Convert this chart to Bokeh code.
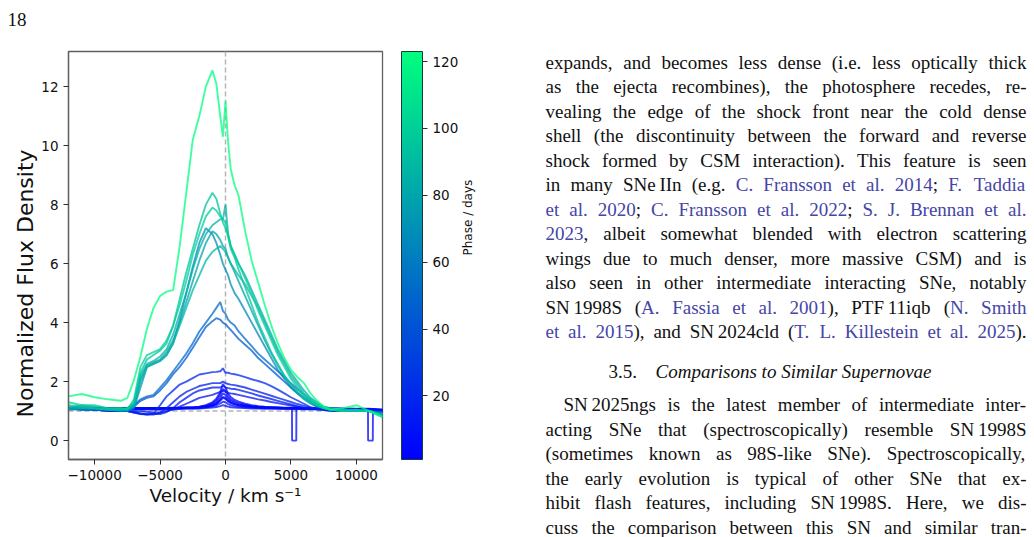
import math
from bokeh.plotting import figure
from bokeh.models import (Range1d, LinearColorMapper, ColorBar, FixedTicker, Span,
                          ColumnDataSource, LinearAxis)
from bokeh.layouts import row
from bokeh.core.properties import value
from bokeh.embed import file_html
from bokeh.resources import INLINE

# ---------------- data ----------------
velocity = [-12000, -11000, -10000, -9000, -8000,
            -7500, -7000, -6500, -6000, -5500,
            -5000, -4500, -4000, -3500, -3000,
            -2500, -2000, -1500, -1000, -700,
            -400, -200, 0, 200, 400,
            700, 1000, 1500, 2000, 2500,
            3000, 3500, 4000, 4500, 5000,
            5500, 6000, 6500, 7000, 7500,
            8000, 9000, 10000, 11000, 12000]

phase_e1 = 1
flux_e1 = [1.12, 1.13, 1.10, 1.11, 1.10,
           1.10, 1.10, 1.11, 1.10, 1.11,
           1.10, 1.11, 1.12, 1.12, 1.13,
           1.13, 1.15, 1.20, 1.30, 1.42,
           1.65, 1.92, 1.80, 1.60, 1.48,
           1.38, 1.32, 1.25, 1.20, 1.17,
           1.15, 1.14, 1.13, 1.12, 1.12,
           1.11, 1.10, 1.10, 1.10, 1.09,
           1.10, 1.08, 1.08, 1.07, 1.05]

phase_e2 = 2
flux_e2 = [1.10, 1.12, 1.11, 1.09, 1.10,
           1.11, 1.10, 1.10, 1.11, 1.10,
           1.10, 1.10, 1.11, 1.11, 1.12,
           1.12, 1.14, 1.18, 1.26, 1.36,
           1.55, 1.75, 1.68, 1.50, 1.40,
           1.32, 1.27, 1.21, 1.17, 1.15,
           1.13, 1.12, 1.12, 1.11, 1.11,
           1.10, 1.10, 1.10, 1.09, 1.09,
           1.09, 1.08, 1.07, 1.08, 1.04]

phase_e3 = 3
flux_e3 = [1.11, 1.10, 1.12, 1.10, 1.09,
           1.10, 1.09, 1.10, 1.10, 1.09,
           1.09, 1.10, 1.10, 1.11, 1.11,
           1.12, 1.13, 1.16, 1.22, 1.30,
           1.45, 1.60, 1.55, 1.42, 1.34,
           1.27, 1.23, 1.19, 1.16, 1.14,
           1.13, 1.12, 1.11, 1.11, 1.10,
           1.10, 1.09, 1.09, 1.09, 1.08,
           1.08, 1.07, 1.07, 1.06, 1.05]

# spectrum with the two telluric gaps
phase_tell = 4
velocity_tell = [-12000, -11000, -10000, -9000, -8000, -7000, -6000, -5000, -4000, -3000,
                 -2000, -1500, -1000, -700, -400, -200, 0, 200, 400, 700,
                 1000, 1500, 2000, 3000, 4000, 5000, 5080, 5090, 5410, 5420,
                 6000, 7000, 8000, 9000, 10000, 10890, 10900, 11260, 11270, 12000]
flux_tell = [1.10, 1.11, 1.10, 1.10, 1.09, 1.10, 1.09, 1.09, 1.10, 1.11,
             1.12, 1.14, 1.19, 1.25, 1.37, 1.48, 1.45, 1.35, 1.29, 1.24,
             1.20, 1.16, 1.14, 1.12, 1.11, 1.10, 1.10, 0.00, 0.00, 1.10,
             1.09, 1.09, 1.08, 1.08, 1.07, 1.07, 0.00, 0.00, 1.06, 1.04]

phase_e5 = 5
flux_e5 = [1.09, 1.10, 1.09, 1.10, 1.08,
           1.09, 1.08, 1.09, 1.08, 1.09,
           1.08, 1.09, 1.09, 1.10, 1.10,
           1.11, 1.12, 1.14, 1.19, 1.25,
           1.36, 1.45, 1.42, 1.33, 1.27,
           1.23, 1.20, 1.16, 1.14, 1.12,
           1.11, 1.11, 1.10, 1.10, 1.09,
           1.09, 1.08, 1.08, 1.08, 1.07,
           1.07, 1.06, 1.06, 1.05, 1.03]

phase_e6 = 6
flux_e6 = [1.08, 1.09, 1.08, 1.07, 1.08,
           1.07, 1.08, 1.07, 1.07, 1.08,
           1.08, 1.08, 1.09, 1.09, 1.10,
           1.10, 1.11, 1.13, 1.16, 1.20,
           1.26, 1.32, 1.30, 1.24, 1.20,
           1.17, 1.15, 1.13, 1.12, 1.11,
           1.10, 1.10, 1.09, 1.09, 1.09,
           1.08, 1.08, 1.07, 1.07, 1.07,
           1.06, 1.06, 1.05, 1.05, 1.02]

phase_e8 = 8
flux_e8 = [1.07, 1.08, 1.06, 1.07, 1.06,
           1.06, 1.07, 1.06, 1.06, 1.05,
           1.05, 1.06, 1.06, 1.07, 1.08,
           1.08, 1.09, 1.10, 1.12, 1.14,
           1.17, 1.20, 1.18, 1.15, 1.13,
           1.12, 1.11, 1.10, 1.09, 1.09,
           1.08, 1.08, 1.08, 1.07, 1.07,
           1.07, 1.06, 1.06, 1.06, 1.05,
           1.05, 1.05, 1.04, 1.04, 1.00]

phase_b10 = 10
flux_b10 = [1.10, 1.10, 1.05, 1.05, 1.05,
            1.02, 1.00, 1.00, 0.98, 0.95,
            0.95, 1.00, 1.05, 1.15, 1.25,
            1.35, 1.45, 1.50, 1.55, 1.60,
            1.65, 1.70, 1.65, 1.62, 1.60,
            1.58, 1.55, 1.50, 1.45, 1.40,
            1.36, 1.31, 1.27, 1.23, 1.19,
            1.15, 1.11, 1.08, 1.06, 1.05,
            1.00, 1.00, 1.00, 1.00, 0.98]

phase_b12 = 12
flux_b12 = [1.10, 1.05, 1.05, 1.00, 1.00,
            1.00, 0.95, 0.92, 0.90, 0.90,
            0.90, 0.97, 1.10, 1.30, 1.45,
            1.60, 1.70, 1.75, 1.80, 1.80,
            1.80, 1.85, 1.80, 1.78, 1.76,
            1.75, 1.72, 1.66, 1.60, 1.53,
            1.47, 1.41, 1.35, 1.29, 1.23,
            1.17, 1.12, 1.08, 1.06, 1.05,
            1.03, 1.02, 1.00, 1.00, 1.00]

phase_b15 = 15
flux_b15 = [1.10, 1.05, 1.05, 1.00, 1.00,
            1.00, 0.95, 0.90, 0.88, 0.88,
            0.95, 1.10, 1.30, 1.50, 1.65,
            1.75, 1.85, 1.90, 1.95, 1.95,
            1.95, 2.00, 1.95, 1.92, 1.90,
            1.88, 1.85, 1.80, 1.73, 1.66,
            1.59, 1.52, 1.45, 1.38, 1.31,
            1.24, 1.18, 1.12, 1.08, 1.06,
            1.04, 1.02, 1.00, 1.00, 1.00]

phase_b19 = 19
flux_b19 = [1.10, 1.10, 1.05, 1.05, 1.00,
            1.00, 0.98, 0.92, 0.88, 0.92,
            1.20, 1.50, 1.70, 1.90, 2.00,
            2.12, 2.24, 2.28, 2.32, 2.33,
            2.35, 2.45, 2.30, 2.30, 2.27,
            2.25, 2.22, 2.15, 2.08, 2.02,
            1.95, 1.85, 1.73, 1.60, 1.47,
            1.36, 1.25, 1.13, 1.08, 1.05,
            1.04, 1.02, 1.00, 1.00, 1.00]

phase_b45 = 45
flux_b45 = [1.10, 1.05, 1.05, 1.05, 1.00,
            1.05, 1.15, 1.35, 1.45, 1.50,
            1.70, 1.95, 2.25, 2.50, 2.80,
            3.15, 3.50, 3.85, 4.05, 4.15,
            4.10, 4.00, 3.95, 3.85, 3.75,
            3.60, 3.45, 3.25, 3.05, 2.80,
            2.60, 2.40, 2.20, 2.00, 1.80,
            1.60, 1.45, 1.30, 1.15, 1.10,
            1.05, 1.00, 1.00, 1.00, 0.95]

phase_b52 = 52
flux_b52 = [1.10, 1.10, 1.05, 1.05, 1.05,
            1.10, 1.20, 1.40, 1.50, 1.55,
            1.80, 2.05, 2.35, 2.65, 2.95,
            3.30, 3.70, 4.00, 4.30, 4.50,
            4.70, 4.40, 4.30, 4.10, 4.00,
            3.90, 3.70, 3.45, 3.20, 2.95,
            2.75, 2.55, 2.35, 2.15, 1.95,
            1.75, 1.55, 1.35, 1.20, 1.10,
            1.05, 1.05, 1.00, 1.00, 0.95]

phase_t68 = 68
flux_t68 = [1.05, 1.05, 1.05, 1.05, 1.00,
            1.00, 1.10, 1.80, 2.50, 2.60,
            2.70, 2.90, 3.30, 4.10, 5.00,
            5.90, 6.70, 7.20, 7.00, 6.70,
            6.30, 6.00, 5.80, 5.60, 5.30,
            5.00, 4.80, 4.40, 4.00, 3.60,
            3.20, 2.80, 2.40, 2.10, 1.80,
            1.60, 1.40, 1.25, 1.15, 1.10,
            1.05, 1.00, 1.00, 1.00, 0.90]

phase_t80 = 80
flux_t80 = [1.05, 1.10, 1.10, 1.05, 1.05,
            1.05, 1.15, 2.00, 2.55, 2.65,
            2.75, 3.00, 3.40, 4.00, 4.70,
            5.40, 6.10, 6.70, 7.10, 7.00,
            6.80, 6.60, 6.50, 6.20, 6.00,
            5.70, 5.40, 4.90, 4.40, 3.90,
            3.40, 2.95, 2.55, 2.20, 1.90,
            1.65, 1.45, 1.30, 1.20, 1.10,
            1.05, 1.00, 1.00, 1.00, 0.90]

phase_t85 = 85
flux_t85 = [1.10, 1.20, 1.15, 1.10, 1.10,
            1.10, 1.25, 2.20, 2.60, 2.70,
            2.85, 3.10, 3.60, 4.30, 5.00,
            5.80, 6.50, 7.00, 7.30, 7.40,
            7.50, 7.50, 8.00, 7.00, 6.60,
            6.30, 6.00, 5.60, 5.10, 4.60,
            4.10, 3.60, 3.10, 2.70, 2.30,
            2.00, 1.70, 1.45, 1.30, 1.15,
            1.10, 1.05, 1.05, 1.00, 0.90]

phase_t90 = 90
flux_t90 = [1.15, 1.10, 1.10, 1.05, 1.05,
            1.05, 1.20, 2.10, 2.50, 2.60,
            2.70, 2.90, 3.30, 3.90, 4.50,
            5.10, 5.60, 6.10, 6.40, 6.50,
            6.60, 6.50, 6.40, 6.20, 6.00,
            5.80, 5.60, 5.30, 4.90, 4.50,
            4.00, 3.50, 3.00, 2.60, 2.20,
            1.90, 1.60, 1.40, 1.25, 1.15,
            1.10, 1.05, 1.00, 1.00, 0.85]

phase_t95 = 95
flux_t95 = [1.20, 1.15, 1.10, 1.05, 1.05,
            1.10, 1.30, 2.30, 2.75, 2.90,
            3.05, 3.30, 3.90, 4.80, 5.70,
            6.50, 7.30, 8.00, 8.40, 8.20,
            7.70, 7.40, 7.20, 6.90, 6.50,
            6.20, 5.80, 5.20, 4.60, 4.00,
            3.50, 3.00, 2.60, 2.20, 1.90,
            1.65, 1.45, 1.30, 1.20, 1.10,
            1.05, 1.00, 1.00, 1.00, 0.85]

phase_t100 = 100
flux_t100 = [1.30, 1.20, 1.20, 1.10, 1.10,
             1.05, 1.40, 2.50, 2.90, 3.00,
             3.10, 3.40, 3.90, 4.60, 5.40,
             6.30, 7.00, 7.60, 7.90, 7.80,
             7.60, 7.50, 7.40, 7.00, 6.60,
             6.30, 6.00, 5.50, 5.00, 4.40,
             3.90, 3.40, 2.90, 2.50, 2.10,
             1.80, 1.55, 1.35, 1.20, 1.10,
             1.05, 1.00, 1.05, 1.00, 0.80]

phase_g123 = 123
flux_g123 = [1.50, 1.58, 1.47, 1.40, 1.35,
             1.45, 2.05, 2.85, 3.80, 4.50,
             4.90, 5.05, 5.10, 6.60, 8.40,
             10.20, 11.00, 12.00, 12.55, 12.10,
             11.00, 10.30, 11.50, 10.10, 9.20,
             8.65, 8.30, 7.10, 6.10, 5.35,
             4.60, 3.90, 3.30, 2.80, 2.40,
             2.15, 1.95, 1.60, 1.35, 1.15,
             1.05, 1.10, 1.20, 1.00, 0.80]

phase_low, phase_high = 1, 123
x_ticks = [-10000, -5000, 0, 5000, 10000]
y_ticks = [0, 2, 4, 6, 8, 10, 12]
cbar_ticks = [20, 40, 60, 80, 100, 120]

page_number = "18"
para1 = [
    "expands, and becomes less dense (i.e. less optically thick",
    "as the ejecta recombines), the photosphere recedes, re-",
    "vealing the edge of the shock front near the cold dense",
    "shell (the discontinuity between the forward and reverse",
    "shock formed by CSM interaction). This feature is seen",
    "in many SNe~IIn (e.g. [C. Fransson et al. 2014]; [F. Taddia]",
    "[et al. 2020]; [C. Fransson et al. 2022]; [S. J. Brennan et al.]",
    "[2023], albeit somewhat blended with electron scattering",
    "wings due to much denser, more massive CSM) and is",
    "also seen in other intermediate interacting SNe, notably",
    "SN~1998S ([A. Fassia et al. 2001]), PTF~11iqb ([N. Smith]",
    "[et al. 2015]), and SN~2024cld ([T. L. Killestein et al. 2025]).",
]
heading_num = "3.5."
heading_text = "Comparisons to Similar Supernovae"
para2 = [
    "SN~2025ngs is the latest member of intermediate inter-",
    "acting SNe that (spectroscopically) resemble SN~1998S",
    "(sometimes known as 98S-like SNe). Spectroscopically,",
    "the early evolution is typical of other SNe that ex-",
    "hibit flash features, including SN~1998S. Here, we dis-",
    "cuss the comparison between this SN and similar tran-",
]

# ---------------- chart ----------------
spectra = [
    (velocity, flux_e1, phase_e1), (velocity, flux_e2, phase_e2),
    (velocity, flux_e3, phase_e3), (velocity_tell, flux_tell, phase_tell),
    (velocity, flux_e5, phase_e5), (velocity, flux_e6, phase_e6),
    (velocity, flux_e8, phase_e8), (velocity, flux_b10, phase_b10),
    (velocity, flux_b12, phase_b12), (velocity, flux_b15, phase_b15),
    (velocity, flux_b19, phase_b19), (velocity, flux_b45, phase_b45),
    (velocity, flux_b52, phase_b52), (velocity, flux_t68, phase_t68),
    (velocity, flux_t80, phase_t80), (velocity, flux_t85, phase_t85),
    (velocity, flux_t90, phase_t90), (velocity, flux_t95, phase_t95),
    (velocity, flux_t100, phase_t100), (velocity, flux_g123, phase_g123),
]
spectra.sort(key=lambda s: s[2])

winter = ["#%02x%02x%02x" % (0, i, int(round(255 - 0.5 * i))) for i in range(256)]
mapper = LinearColorMapper(palette=winter, low=phase_low, high=phase_high)

FRAME_L, FRAME_R, FRAME_T, FRAME_B = 68, 382, 51, 459
WA, H = 520, 537

p = figure(width=WA, height=H, output_backend="svg", toolbar_location=None,
           x_range=Range1d(-12000, 12000), y_range=Range1d(-0.64, 13.19),
           min_border_left=FRAME_L, min_border_right=WA - FRAME_R,
           min_border_top=FRAME_T, min_border_bottom=H - FRAME_B)
p.frame_align = False

# page number, shown in the top margin
p.title.text = page_number + "\n"
p.title.align = "left"
p.title.offset = -61
p.title.standoff = 2
p.title.text_font = "Liberation Serif"
p.title.text_font_size = "19px"
p.title.text_font_style = "normal"
p.title.text_color = "#111111"

p.xgrid.visible = False
p.ygrid.visible = False
p.background_fill_color = "white"
p.border_fill_color = "white"
p.outline_line_color = "#606060"
p.outline_line_width = 1.3

for ax in (p.xaxis[0], p.yaxis[0]):
    ax.axis_line_color = "#606060"
    ax.axis_line_width = 1.3
    ax.major_tick_out = 5
    ax.major_tick_in = 0
    ax.major_tick_line_color = "#303030"
    ax.minor_tick_line_color = None
    ax.major_label_text_font = "DejaVu Sans"
    ax.major_label_text_font_size = "13.5px"
    ax.major_label_text_color = "#111111"
    ax.axis_label_text_font = "DejaVu Sans"
    ax.axis_label_text_font_style = "normal"
    ax.axis_label_text_color = "#111111"

p.xaxis.ticker = FixedTicker(ticks=x_ticks)
p.xaxis.major_label_overrides = {t: ("\u2212" + str(-t) if t < 0 else str(t)) for t in x_ticks}
p.xaxis.axis_label = "Velocity / km s\u207b\u00b9"
p.xaxis.axis_label_text_font_size = "18.5px"
p.xaxis.major_label_standoff = 5
p.xaxis.axis_label_standoff = 2

p.yaxis.ticker = FixedTicker(ticks=y_ticks)
p.yaxis.axis_label = "Normalized Flux Density" + "\u00a0" * 8
p.yaxis.axis_label_text_font_size = "22px"
p.yaxis.major_label_standoff = 5
p.yaxis.axis_label_standoff = 0

p.add_layout(Span(location=0, dimension="height", line_color="#b4b4b4",
                  line_dash="5 3", line_width=1.5, level="underlay"))
p.add_layout(Span(location=1, dimension="width", line_color="#b4b4b4",
                  line_dash="5 3", line_width=1.5, level="underlay"))

src = ColumnDataSource(dict(xs=[s[0] for s in spectra], ys=[s[1] for s in spectra],
                            phase=[s[2] for s in spectra]))
p.multi_line(xs="xs", ys="ys", source=src,
             line_color={"field": "phase", "transform": mapper},
             line_alpha=0.75, line_width=1.9)

cbar = ColorBar(color_mapper=mapper, ticker=FixedTicker(ticks=cbar_ticks),
                width=21, padding=0, margin=0, location=(19, 0),
                major_tick_out=5, major_tick_in=0, major_tick_line_color="#303030",
                minor_tick_line_color=None, label_standoff=5,
                major_label_text_font="DejaVu Sans", major_label_text_font_size="13.5px",
                major_label_text_color="#111111",
                bar_line_color="#1d3a3a", bar_line_width=1,
                border_line_color=None, background_fill_color=None)
p.add_layout(cbar, "right")

phase_axis = LinearAxis(ticker=FixedTicker(ticks=[]), axis_label="Phase / days",
                        axis_line_color=None, major_tick_line_color=None,
                        minor_tick_line_color=None, major_tick_out=0, major_tick_in=0,
                        axis_label_text_font="DejaVu Sans", axis_label_text_font_size="12px",
                        axis_label_text_font_style="normal", axis_label_text_color="#111111",
                        axis_label_standoff=6)
if "axis_label_orientation" in phase_axis.properties():
    phase_axis.axis_label_orientation = math.pi / 2
p.add_layout(phase_axis, "right")

# ---------------- text column ----------------
WB = 1034 - WA
FS = 19
W = {}
for ch, w in zip("abcdefghijklmnopqrstuvwxyz",
                 [444, 500, 444, 500, 444, 333, 500, 500, 278, 278, 500, 278, 778,
                  500, 500, 500, 500, 333, 389, 278, 500, 500, 722, 500, 500, 444]):
    W[ch] = w
for ch, w in zip("ABCDEFGHIJKLMNOPQRSTUVWXYZ",
                 [722, 667, 667, 722, 611, 556, 722, 722, 333, 389, 722, 611, 889,
                  722, 722, 556, 722, 667, 556, 611, 722, 722, 944, 722, 722, 611]):
    W[ch] = w
for ch in "0123456789":
    W[ch] = 500
W.update({" ": 250, ".": 250, ",": 250, ";": 278, ":": 278, "(": 333, ")": 333,
          "-": 333, "~": 200})


def tw(s):
    return sum(W.get(c, 500) for c in s) / 1000.0 * FS


def parse(line):
    tokens, cur, buf, link = [], [], "", False
    for ch in line:
        if ch in "[]":
            if buf:
                cur.append((buf, link))
                buf = ""
            link = ch == "["
        elif ch == " ":
            if buf:
                cur.append((buf, link))
                buf = ""
            if cur:
                tokens.append(cur)
                cur = []
        else:
            buf += ch
    if buf:
        cur.append((buf, link))
    if cur:
        tokens.append(cur)
    return tokens


TEXT_COLOR, LINK_COLOR = "#111111", "#4545a6"
tx, ty, tt, tc = [], [], [], []
LEFT, RIGHT = 545, 1026


def layout_line(line, y, left):
    toks = parse(line)
    widths = [sum(tw(s) for s, _ in t) for t in toks]
    gap = (RIGHT - left - sum(widths)) / max(len(toks) - 1, 1)
    x = left
    for t, wtok in zip(toks, widths):
        xx = x
        for s, lk in t:
            tx.append(xx)
            ty.append(y)
            tt.append(s.replace("~", "\u2009"))
            tc.append(LINK_COLOR if lk else TEXT_COLOR)
            xx += tw(s)
        x += wtok + gap


for i, line in enumerate(para1):
    layout_line(line, 62 + 24.45 * i, LEFT)
for i, line in enumerate(para2):
    layout_line(line, 404 + 24.6 * i, LEFT + 18 if i == 0 else LEFT)

p2 = figure(width=WB, height=H, output_backend="svg", toolbar_location=None,
            x_range=Range1d(WA, 1034), y_range=Range1d(H, 0),
            x_axis_location=None, y_axis_location=None, min_border=0)
p2.frame_align = False
p2.xgrid.visible = False
p2.ygrid.visible = False
p2.outline_line_color = None
p2.background_fill_color = "white"
p2.border_fill_color = "white"

tsrc = ColumnDataSource(dict(x=tx, y=ty, text=tt, color=tc))
p2.text(x="x", y="y", text="text", text_color="color", source=tsrc,
        text_font=value("Liberation Serif"), text_font_size="%dpx" % FS,
        text_baseline="alphabetic", text_align="left")
hsrc = ColumnDataSource(dict(x=[608], y=[371], text=[heading_num]))
p2.text(x="x", y="y", text="text", source=hsrc, text_color=TEXT_COLOR,
        text_font=value("Liberation Serif"), text_font_size="%dpx" % FS,
        text_baseline="alphabetic", text_align="left")
isrc = ColumnDataSource(dict(x=[655], y=[371], text=[heading_text]))
p2.text(x="x", y="y", text="text", source=isrc, text_color=TEXT_COLOR,
        text_font=value("Liberation Serif"), text_font_size="%dpx" % FS,
        text_font_style="italic", text_baseline="alphabetic", text_align="left")

layout = row(p, p2, spacing=0)
open("out.html", "w").write(file_html(layout, INLINE))
